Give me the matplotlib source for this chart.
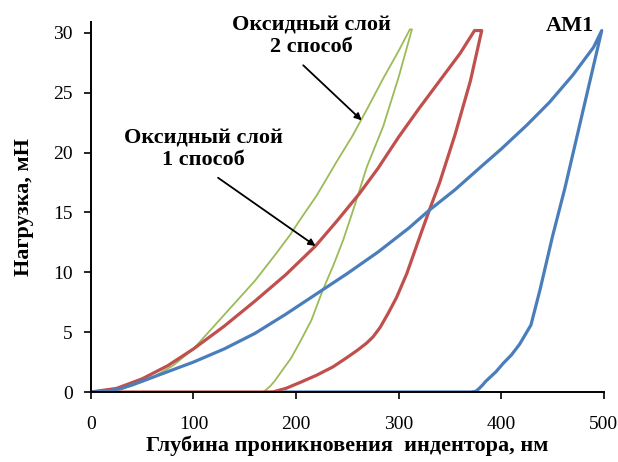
import matplotlib
matplotlib.use('Agg')
import matplotlib.pyplot as plt

plt.rcParams['font.family'] = ['Liberation Serif', 'DejaVu Serif']

# AM1 (blue)
am1_load_x = [0, 15, 30, 50, 75, 100, 130, 160, 190, 220, 250, 280, 310, 330, 355, 380, 400, 425, 447, 470, 490, 498]
am1_load_y = [0, 0.05, 0.3, 0.9, 1.7, 2.5, 3.6, 4.9, 6.5, 8.2, 9.9, 11.7, 13.7, 15.2, 16.9, 18.8, 20.3, 22.3, 24.2, 26.5, 28.8, 30.2]
am1_unload_x = [498, 480, 462, 450, 438, 429, 418, 410, 402, 395, 390, 385, 382, 378, 375, 370, 190]
am1_unload_y = [30.2, 23.6, 17.0, 13.0, 8.6, 5.6, 4.0, 3.1, 2.4, 1.7, 1.3, 0.9, 0.6, 0.25, 0.05, 0, 0]

# oxide layer, method 1 (red)
ox1_load_x = [0, 25, 50, 75, 100, 130, 160, 190, 219, 240, 262, 280, 300, 320, 340, 360, 374, 381]
ox1_load_y = [0, 0.3, 1.1, 2.2, 3.6, 5.5, 7.6, 9.8, 12.2, 14.3, 16.6, 18.7, 21.3, 23.7, 26.0, 28.3, 30.2, 30.2]
ox1_unload_x = [381, 370, 355, 340, 330, 322, 315, 308, 298, 290, 282, 275, 269, 260, 250, 236, 220, 204, 190, 178, 170, 0]
ox1_unload_y = [30.2, 26.0, 21.5, 17.5, 15.2, 13.3, 11.6, 9.9, 7.9, 6.6, 5.4, 4.6, 4.1, 3.5, 2.9, 2.1, 1.4, 0.8, 0.3, 0.02, 0, 0]

# oxide layer, method 2 (green)
ox2_load_x = [0, 20, 40, 60, 80, 100, 120, 140, 160, 180, 194, 204, 220, 240, 255, 269, 285, 300, 311]
ox2_load_y = [0, 0.05, 0.5, 1.2, 2.2, 3.6, 5.5, 7.4, 9.3, 11.5, 13.1, 14.4, 16.4, 19.3, 21.4, 23.6, 26.2, 28.5, 30.3]
ox2_unload_x = [313, 300, 285, 269, 258, 246, 236, 226, 215, 204, 195, 189, 184, 179, 175, 171, 168, 165]
ox2_unload_y = [30.3, 26.3, 22.2, 18.8, 15.8, 12.7, 10.5, 8.5, 6.0, 4.2, 2.8, 2.1, 1.5, 0.9, 0.5, 0.2, 0.02, 0]

blue = '#4a7ebb'
red = '#c0504d'
green = '#9bbb59'

fig = plt.figure(figsize=(6.18, 4.62), dpi=100)
ax = fig.add_axes([0.147, 0.1515, 0.83, 0.8005])

ax.plot(ox2_load_x + ox2_unload_x, ox2_load_y + ox2_unload_y, color=green, lw=1.3,
        solid_joinstyle='round')
ax.plot(ox1_load_x + ox1_unload_x, ox1_load_y + ox1_unload_y, color=red, lw=2.3,
        solid_joinstyle='round')
ax.plot(am1_load_x + am1_unload_x, am1_load_y + am1_unload_y, color=blue, lw=2.3,
        solid_joinstyle='round')

ax.set_xlim(0, 500)
ax.set_ylim(0, 30.9)
ax.set_xticks(range(0, 501, 100))
ax.set_yticks(range(0, 31, 5))
for s in ['top', 'right']:
    ax.spines[s].set_visible(False)
for s in ['left', 'bottom']:
    ax.spines[s].set_linewidth(1.4)
ax.tick_params(direction='out', length=5, width=1.2, labelsize=14)
ax.tick_params(axis='x', pad=12)
ax.tick_params(axis='y', pad=8)

ax.set_xlabel('Глубина проникновения  индентора, нм', fontsize=16, fontweight='bold', labelpad=2)
ax.set_ylabel('Нагрузка, мН', fontsize=16, fontweight='bold', labelpad=14)

# labels and arrows
ax.text(109.6, 20.3, 'Оксидный слой\n1 способ', ha='center', va='center',
        fontsize=16, fontweight='bold', linespacing=1.1)
ax.annotate('', xy=(219, 12.2), xytext=(124, 17.9),
            arrowprops=dict(arrowstyle='-|>', color='black', lw=1.3, shrinkA=0, shrinkB=0,
                            mutation_scale=10))
ax.text(215, 29.7, 'Оксидный слой\n2 способ', ha='center', va='center',
        fontsize=16, fontweight='bold', linespacing=1.1, clip_on=False)
ax.annotate('', xy=(264, 22.7), xytext=(207, 27.3),
            arrowprops=dict(arrowstyle='-|>', color='black', lw=1.3, shrinkA=0, shrinkB=0,
                            mutation_scale=10))
ax.text(467, 30.6, 'AM1', ha='center', va='center', fontsize=16, fontweight='bold',
        clip_on=False)

fig.savefig('out.png', dpi=100)
